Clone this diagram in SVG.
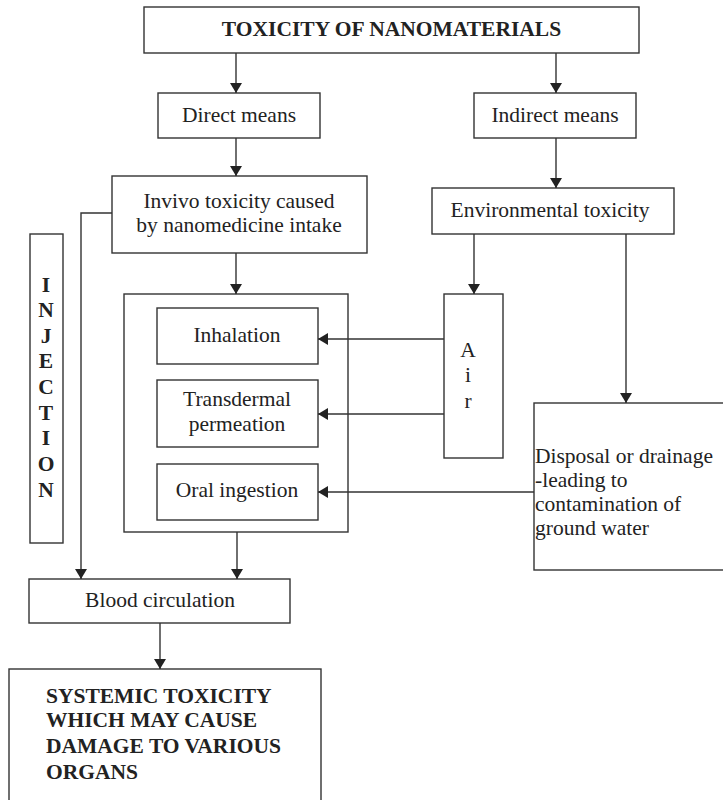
<svg xmlns="http://www.w3.org/2000/svg" width="723" height="800" viewBox="0 0 723 800" font-family="'Liberation Serif', serif">
<defs>
<marker id="ah" viewBox="0 0 10 12" refX="10" refY="6" markerWidth="10" markerHeight="12" markerUnits="userSpaceOnUse" orient="auto">
<path d="M0,0 L10,6 L0,12 Z" fill="#222"/>
</marker>
<style>
rect{fill:#fff;stroke:#333;stroke-width:1.4}
text{font-family:'Liberation Serif',serif;font-size:21.5px;fill:#222}
.c{text-anchor:middle}
.b{font-weight:bold}
#connectors path{fill:none;stroke:#333;stroke-width:1.4}
#connectors path.a{marker-end:url(#ah)}
</style>
</defs>
<rect x="0" y="0" width="723" height="800" style="fill:#fff;stroke:none"/>
<g id="title"><rect x="144" y="7" width="495" height="46"/><text class="c b" x="391.5" y="36">TOXICITY OF NANOMATERIALS</text></g>
<g id="direct"><rect x="158" y="93" width="162" height="45"/><text class="c" x="239" y="122">Direct means</text></g>
<g id="indirect"><rect x="474" y="93" width="162" height="45"/><text class="c" x="555" y="122">Indirect means</text></g>
<g id="invivo"><rect x="112" y="176" width="255" height="77"/><text class="c" x="239" y="208">Invivo toxicity caused</text><text class="c" x="239" y="232">by nanomedicine intake</text></g>
<g id="environmental"><rect x="432" y="188" width="242" height="46"/><text class="c" x="550" y="217">Environmental toxicity</text></g>
<g id="injection"><rect x="30" y="234" width="33" height="309"/>
<text class="c b" x="46" y="292">I</text><text class="c b" x="46" y="317">N</text><text class="c b" x="46" y="343">J</text><text class="c b" x="46" y="368">E</text><text class="c b" x="46" y="394">C</text><text class="c b" x="46" y="420">T</text><text class="c b" x="46" y="445">I</text><text class="c b" x="46" y="471">O</text><text class="c b" x="46" y="497">N</text></g>
<g id="routes"><rect x="124" y="294" width="224" height="238" style="fill:none"/></g>
<g id="inhalation"><rect x="157" y="308" width="161" height="56"/><text class="c" x="237" y="342">Inhalation</text></g>
<g id="transdermal"><rect x="157" y="380" width="161" height="67"/><text class="c" x="237" y="406">Transdermal</text><text class="c" x="237" y="431">permeation</text></g>
<g id="oral"><rect x="157" y="464" width="161" height="56"/><text class="c" x="237" y="497">Oral ingestion</text></g>
<g id="air"><rect x="444" y="294" width="59" height="164"/><text class="c" x="468" y="357">A</text><text class="c" x="468" y="382">i</text><text class="c" x="468" y="408">r</text></g>
<g id="disposal"><rect x="534" y="403" width="200" height="167"/>
<text x="535" y="463">Disposal or drainage</text><text x="535" y="487">-leading to</text><text x="535" y="511">contamination of</text><text x="535" y="535">ground water</text></g>
<g id="blood"><rect x="29" y="579" width="261" height="44"/><text class="c" x="160" y="607">Blood circulation</text></g>
<g id="systemic"><rect x="9" y="669" width="312" height="140"/>
<text class="b" x="46" y="703">SYSTEMIC TOXICITY</text><text class="b" x="46" y="727">WHICH MAY CAUSE</text><text class="b" x="46" y="753">DAMAGE TO VARIOUS</text><text class="b" x="46" y="779">ORGANS</text></g>
<g id="connectors">
<path class="a" d="M236,53 V93"/>
<path class="a" d="M556,53 V93"/>
<path class="a" d="M236,138 V176"/>
<path class="a" d="M556,138 V188"/>
<path class="a" d="M236,253 V294"/>
<path class="a" d="M112,213 H81 V579"/>
<path class="a" d="M237,532 V579"/>
<path class="a" d="M474,234 V294"/>
<path class="a" d="M626,234 V403"/>
<path class="a" d="M444,339 H318"/>
<path class="a" d="M444,414 H318"/>
<path class="a" d="M534,492 H318"/>
<path class="a" d="M160,623 V669"/>
</g>
</svg>
